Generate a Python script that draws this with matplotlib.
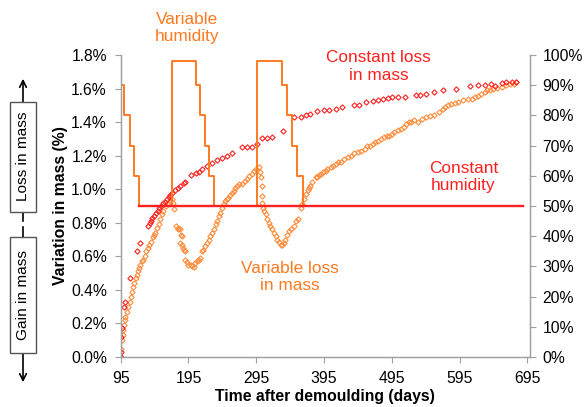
import matplotlib
matplotlib.use('Agg')
import matplotlib.pyplot as plt
from matplotlib.patches import Rectangle

plt.rcParams['font.family'] = ['Liberation Sans', 'DejaVu Sans']

# constant humidity specimen (red)
const_days = [95, 95, 96, 97, 100, 102, 108, 119, 124, 136, 138, 140, 141, 144, 147, 150, 152, 155, 157, 160,
              163, 166, 168, 171, 175, 180, 183, 188, 190, 198, 206, 210, 215, 222, 230, 237, 245, 252, 259, 274,
              282, 289, 296, 304, 311, 319, 335, 351, 361, 368, 375, 385, 395, 403, 412, 422, 440, 447, 457, 467,
              474, 482, 489, 496, 504, 514, 531, 536, 546, 558, 571, 590, 610, 622, 632, 642, 647, 657, 664, 672, 679]
const_loss = [0.00, 0.03, 0.12, 0.17, 0.30, 0.33, 0.47, 0.63, 0.68, 0.78, 0.80, 0.81, 0.83, 0.84, 0.86, 0.87, 0.89, 0.90, 0.915, 0.925,
              0.94, 0.955, 0.965, 0.975, 0.995, 1.01, 1.02, 1.035, 1.04, 1.085, 1.095, 1.10, 1.118, 1.138, 1.158, 1.174, 1.188, 1.198, 1.218, 1.254,
              1.254, 1.254, 1.268, 1.308, 1.308, 1.314, 1.347, 1.428, 1.433, 1.441, 1.447, 1.467, 1.471, 1.473, 1.48, 1.487, 1.503, 1.503, 1.521, 1.527,
              1.531, 1.537, 1.541, 1.547, 1.551, 1.551, 1.563, 1.563, 1.567, 1.577, 1.591, 1.597, 1.613, 1.621, 1.621, 1.627, 1.617, 1.633, 1.637, 1.637, 1.641]

# variable humidity specimen (orange)
var_days = [95, 96, 97, 98, 99, 100, 101, 102, 104, 106, 108, 110, 112, 113, 115, 117, 119, 121, 122, 124,
            126, 128, 131, 133, 135, 137, 139, 142, 144, 146, 148, 151, 153, 156, 158, 162, 165, 168, 170, 172,
            174, 177, 179, 180, 182, 184, 185, 183, 185, 187, 189, 190, 190, 193, 195, 198, 200, 203, 205, 208,
            210, 212, 215, 217, 220, 222, 225, 227, 230, 232, 235, 237, 240, 242, 245, 247, 249, 252, 254, 257,
            259, 262, 264, 267, 270, 274, 278, 282, 285, 289, 292, 295, 299, 301, 302, 303, 304, 304, 305, 306,
            309, 311, 314, 316, 319, 321, 324, 326, 328, 331, 333, 336, 338, 341, 343, 346, 351, 353, 357, 361,
            363, 365, 368, 371, 373, 375, 378, 383, 385, 388, 390, 393, 398, 400, 405, 408, 412, 415, 420, 425,
            430, 435, 440, 445, 450, 455, 459, 463, 467, 471, 474, 479, 484, 488, 491, 495, 499, 504, 509, 513,
            516, 520, 524, 528, 534, 540, 546, 552, 558, 565, 570, 573, 578, 583, 588, 593, 600, 607, 613, 618,
            622, 627, 632, 635, 640, 645, 650, 657, 663, 669, 675, 679]
var_loss = [0.00, 0.05, 0.10, 0.13, 0.16, 0.19, 0.22, 0.24, 0.27, 0.30, 0.33, 0.36, 0.39, 0.42, 0.44, 0.47, 0.49, 0.51, 0.53, 0.55,
            0.57, 0.58, 0.60, 0.63, 0.65, 0.67, 0.685, 0.715, 0.73, 0.74, 0.77, 0.795, 0.82, 0.85, 0.87, 0.90, 0.915, 0.93, 0.94, 0.92,
            0.88, 0.78, 0.77, 0.765, 0.76, 0.73, 0.72, 0.68, 0.67, 0.65, 0.64, 0.63, 0.58, 0.565, 0.55, 0.55, 0.54, 0.535, 0.56, 0.57,
            0.58, 0.59, 0.63, 0.64, 0.66, 0.68, 0.70, 0.72, 0.74, 0.765, 0.79, 0.81, 0.84, 0.86, 0.89, 0.91, 0.93, 0.94, 0.95, 0.965,
            0.98, 0.99, 1.01, 1.02, 1.03, 1.03, 1.05, 1.06, 1.08, 1.09, 1.11, 1.12, 1.13, 1.10, 1.07, 1.02, 0.96, 0.92, 0.89, 0.87,
            0.85, 0.82, 0.80, 0.78, 0.76, 0.74, 0.72, 0.70, 0.685, 0.67, 0.665, 0.68, 0.70, 0.73, 0.75, 0.76, 0.78, 0.81, 0.82, 0.89,
            0.91, 0.94, 0.97, 0.995, 1.01, 1.02, 1.04, 1.07, 1.07, 1.085, 1.09, 1.10, 1.11, 1.12, 1.13, 1.14, 1.15, 1.16, 1.165, 1.18,
            1.19, 1.20, 1.215, 1.22, 1.23, 1.24, 1.255, 1.26, 1.27, 1.28, 1.29, 1.30, 1.31, 1.315, 1.32, 1.33, 1.34, 1.35, 1.36, 1.37,
            1.39, 1.40, 1.40, 1.415, 1.40, 1.42, 1.43, 1.435, 1.44, 1.46, 1.48, 1.49, 1.50, 1.51, 1.515, 1.52, 1.53, 1.535, 1.54, 1.55,
            1.555, 1.57, 1.58, 1.59, 1.59, 1.60, 1.605, 1.61, 1.62, 1.625, 1.63, 1.64]

# relative humidity (right axis, %)
hum_days = [95, 95, 100.3, 108.7, 115, 122.4, 170.2, 205.6, 212, 219.3, 225.7, 233, 295.6, 332.5, 339.8, 347.2, 355.5, 363.4]
hum_vals = [100, 90, 80, 70, 60, 50, 98, 90, 80, 70, 60, 50, 98, 90, 80, 70, 60, 50]
const_hum_days = [122.4, 688]
const_hum_vals = [50, 50]

xticks = [95, 195, 295, 395, 495, 595, 695]
yticks_left = [0.0, 0.2, 0.4, 0.6, 0.8, 1.0, 1.2, 1.4, 1.6, 1.8]
yticks_right = [0, 10, 20, 30, 40, 50, 60, 70, 80, 90, 100]

ORANGE = '#FF7A1F'
ORANGE_PTS = '#FF8C3C'
RED = '#FF2020'
GREY = '#A0A0A0'

fig = plt.figure(figsize=(5.84, 4.07), dpi=100)
ax = fig.add_axes([0.2067, 0.1229, 0.7008, 0.742])

ax.plot(var_days, var_loss, linestyle='none', marker='D', markersize=2.7,
        markerfacecolor='none', markeredgecolor=ORANGE_PTS, markeredgewidth=0.8)
ax.plot(const_days, const_loss, linestyle='none', marker='D', markersize=2.7,
        markerfacecolor='none', markeredgecolor=RED, markeredgewidth=0.8)

ax.set_xlim(95, 699)
ax.set_ylim(0, 1.8)
ax.set_xticks(xticks)
ax.set_yticks(yticks_left)
ax.set_yticklabels([f'{v:.1f}%' for v in yticks_left])

ax2 = ax.twinx()
ax2.plot(hum_days, hum_vals, drawstyle='steps-post', color=ORANGE, lw=1.4)
ax2.plot(const_hum_days, const_hum_vals, color=RED, lw=1.7)
ax2.set_ylim(0, 100)
ax2.set_yticks(yticks_right)
ax2.set_yticklabels([f'{v}%' for v in yticks_right])

for a in (ax, ax2):
    a.spines['top'].set_visible(False)
    for s in ('left', 'right', 'bottom'):
        a.spines[s].set_color(GREY)
        a.spines[s].set_linewidth(0.9)
    a.tick_params(colors=GREY, labelcolor='black', labelsize=11.3, length=4, width=0.8)
ax.tick_params(axis='y', pad=6)
ax.tick_params(axis='x', pad=6)
ax2.tick_params(axis='y', pad=5)

fig.text(0.5565, 0.0253, 'Time after demoulding (days)', ha='center', va='center',
         fontsize=11.3, fontweight='bold')
fig.text(0.1036, 0.4939, 'Variation in mass (%)', ha='center', va='center',
         rotation=90, fontsize=11.3, fontweight='bold')

fig.text(0.3197, 0.9312, 'Variable\nhumidity', ha='center', va='center', color=ORANGE, fontsize=12.4)
fig.text(0.6478, 0.8366, 'Constant loss\nin mass', ha='center', va='center', color=RED, fontsize=12.4)
fig.text(0.7933, 0.5644, 'Constant\nhumidity', ha='center', va='center', color=RED, fontsize=12.4)
fig.text(0.4966, 0.3187, 'Variable loss\nin mass', ha='center', va='center', color=ORANGE, fontsize=12.4)

# left side gain / loss indicator
W, H = 584.0, 407.0
xc = 23 / W
mid = 1 - 224 / H
ax.annotate('', xy=(xc, 1 - 76 / H), xytext=(xc, mid), xycoords='figure fraction',
            textcoords='figure fraction', annotation_clip=False,
            arrowprops=dict(arrowstyle='->', color='black', lw=1.2, mutation_scale=12))
ax.annotate('', xy=(xc, 1 - 385 / H), xytext=(xc, mid), xycoords='figure fraction',
            textcoords='figure fraction', annotation_clip=False,
            arrowprops=dict(arrowstyle='->', color='black', lw=1.2, mutation_scale=12))

fig.add_artist(Rectangle((10 / W, 1 - 211.7 / H), 26 / W, 110 / H, transform=fig.transFigure,
                         facecolor='white', edgecolor='#555555', lw=1.0, zorder=3))
fig.add_artist(Rectangle((10 / W, 1 - 353.3 / H), 26 / W, 116 / H, transform=fig.transFigure,
                         facecolor='white', edgecolor='#555555', lw=1.0, zorder=3))
fig.text(xc, 1 - 156.7 / H, 'Loss in mass', ha='center', va='center', rotation=90,
         fontsize=11.1, zorder=4)
fig.text(xc, 1 - 295.3 / H, 'Gain in mass', ha='center', va='center', rotation=90,
         fontsize=11.1, zorder=4)

fig.savefig('out.png', dpi=100)
